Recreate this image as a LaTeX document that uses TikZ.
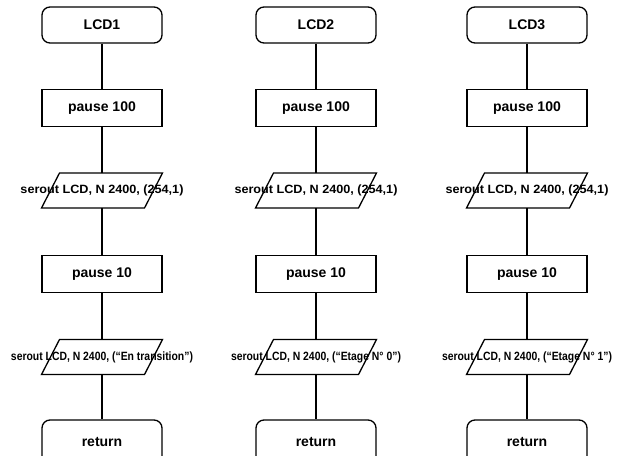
\documentclass[tikz,border=0pt]{standalone}
\usepackage{fontspec}
\setmainfont{Liberation Sans}
\usepackage{graphicx}
\tikzset{
  flowline/.style={line width=1.3pt, black},
  termbox/.style={draw, line width=1.3pt, rounded corners=8pt, minimum width=120pt, minimum height=36pt, inner sep=0pt, font=\fontsize{14}{16}\selectfont\bfseries},
  procbox/.style={draw, line width=1.3pt, minimum width=120pt, minimum height=37pt, inner sep=0pt, font=\fontsize{14}{16}\selectfont\bfseries},
  iotext/.style={minimum height=35pt, inner sep=0pt, font=\fontsize{12}{14}\selectfont\bfseries},
}
\newcommand{\iopar}[1]{%
  \draw[line width=1.3pt, line join=miter] ([shift={(-42.5pt,17.5pt)}]#1.center) -- ([shift={(60.5pt,17.5pt)}]#1.center) -- ([shift={(42.5pt,-17.5pt)}]#1.center) -- ([shift={(-60.5pt,-17.5pt)}]#1.center) -- cycle;}
\begin{document}
\begin{tikzpicture}[x=1pt, y=-1pt]
\useasboundingbox (0,0) rectangle (618,455);
\clip (0,0) rectangle (618,455);
\foreach \i/\cx/\msg/\w in {1/102/{En transition}/182, 2/316/{Etage N° 0}/170, 3/527/{Etage N° 1}/170} {
  \node[termbox] (t\i) at (\cx,25) {LCD\i};
  \node[procbox] (a\i) at (\cx,108) {pause 100};
  \node[iotext] (b\i) at (\cx,190.5) {\resizebox{163pt}{\height}{serout LCD, N 2400, (254,1)}};
  \node[procbox] (c\i) at (\cx,274) {pause 10};
  \node[iotext] (d\i) at (\cx,357) {\resizebox{\w pt}{\height}{serout LCD, N 2400, (“\msg”)}};
  \node[termbox, minimum height=44pt] (r\i) at (\cx,442) {return};
  \iopar{b\i}
  \iopar{d\i}
  \draw[flowline] (t\i) -- (a\i);
  \draw[flowline] (a\i) -- (b\i);
  \draw[flowline] (b\i) -- (c\i);
  \draw[flowline] (c\i) -- (d\i);
  \draw[flowline] (d\i) -- (r\i);
}
\end{tikzpicture}
\end{document}
